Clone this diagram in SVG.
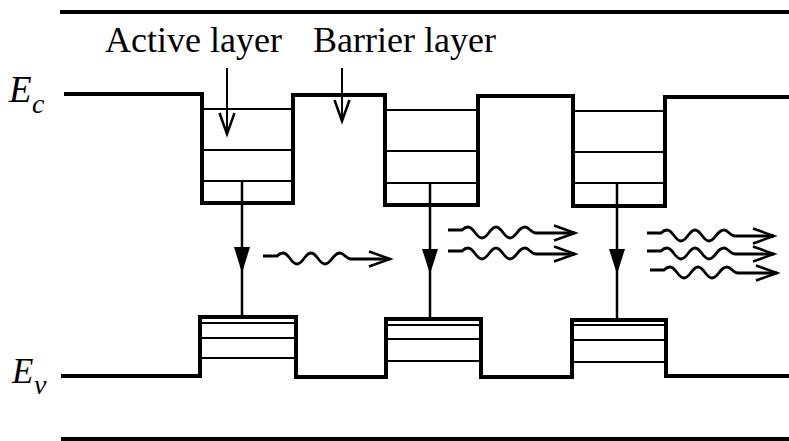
<svg xmlns="http://www.w3.org/2000/svg" width="789" height="441" viewBox="0 0 789 441">
<style>
.band{fill:none;stroke:#000;stroke-width:4;stroke-linejoin:miter;stroke-linecap:butt}
.frame{stroke:#000;stroke-width:4}
.lvl{stroke:#000;stroke-width:2}
.lbl{font-family:"Liberation Serif","Times New Roman",serif;font-size:36px;fill:#000}
.sym{font-family:"Liberation Serif","Times New Roman",serif;font-style:italic;fill:#000}
.ptr{stroke:#000;stroke-width:2;fill:none}
.wave{stroke:#000;stroke-width:2.8;fill:none}
.trans{stroke:#000;stroke-width:2.5}
.head{fill:#000}
</style>
<defs>
<marker id="vhead" markerUnits="userSpaceOnUse" markerWidth="30" markerHeight="22" viewBox="-25 -11 28 22" refX="0" refY="0" orient="auto">
<path d="M-21,-7.5 L0,0 L-21,7.5" fill="none" stroke="#000" stroke-width="2.5"/>
</marker>
<path id="wv" class="wave" d="M0,-3 H14 C16,-5 18,-6 20,-6 C26,-6 28,5 34,5 C40,5 42,-6 48,-6 C54,-6 56,5 62,5 C68,5 70,-6 77,-6 C81,-6 83,0 88,0 H127" marker-end="url(#vhead)"/>
</defs>

<g id="frame">
<line class="frame" x1="60" y1="12" x2="789" y2="12"/>
<line class="frame" x1="61" y1="439" x2="789" y2="439"/>
</g>

<g id="labels">
<text class="lbl" x="105" y="52">Active layer</text>
<text class="lbl" x="313" y="52">Barrier layer</text>
</g>

<g id="Ec-label">
<text class="sym" x="9" y="102" font-size="37">E</text>
<text class="sym" x="32" y="113" font-size="28">c</text>
</g>
<g id="Ev-label">
<text class="sym" x="12" y="383" font-size="35">E</text>
<text class="sym" x="34" y="394" font-size="28">v</text>
</g>

<g id="conduction-band">
<path class="band" d="M64,94 H202 V203 H293 V95 H385 V205 H478 V96 H573 V206 H665 V97 H789"/>
</g>
<g id="cb-well-1">
<line class="lvl" x1="202" y1="109" x2="293" y2="109"/>
<line class="lvl" x1="202" y1="150" x2="293" y2="150"/>
<line class="lvl" x1="202" y1="181" x2="293" y2="181"/>
</g>
<g id="cb-well-2">
<line class="lvl" x1="385" y1="110" x2="478" y2="110"/>
<line class="lvl" x1="385" y1="151" x2="478" y2="151"/>
<line class="lvl" x1="385" y1="183" x2="478" y2="183"/>
</g>
<g id="cb-well-3">
<line class="lvl" x1="573" y1="111" x2="665" y2="111"/>
<line class="lvl" x1="573" y1="152" x2="665" y2="152"/>
<line class="lvl" x1="573" y1="183" x2="665" y2="183"/>
</g>

<g id="valence-band">
<path class="band" d="M61,376 H200 V317 H296 V377 H386 V319 H481 V377 H572 V320 H666 V376 H789"/>
</g>
<g id="vb-well-1">
<line class="lvl" x1="200" y1="323" x2="296" y2="323"/>
<line class="lvl" x1="200" y1="338" x2="296" y2="338"/>
<line class="lvl" x1="200" y1="358" x2="296" y2="358"/>
</g>
<g id="vb-well-2">
<line class="lvl" x1="386" y1="325" x2="481" y2="325"/>
<line class="lvl" x1="386" y1="339" x2="481" y2="339"/>
<line class="lvl" x1="386" y1="361" x2="481" y2="361"/>
</g>
<g id="vb-well-3">
<line class="lvl" x1="572" y1="325" x2="666" y2="325"/>
<line class="lvl" x1="572" y1="340" x2="666" y2="340"/>
<line class="lvl" x1="572" y1="362" x2="666" y2="362"/>
</g>

<g id="connectors">
<line class="ptr" x1="227" y1="68" x2="227" y2="134" marker-end="url(#vhead)"/>
<line class="ptr" x1="342" y1="68" x2="342" y2="121" marker-end="url(#vhead)"/>

<line class="trans" x1="242" y1="181" x2="242" y2="317"/>
<polygon class="head" points="234,247 250,247 242,273"/>
<line class="trans" x1="430" y1="183" x2="430" y2="319"/>
<polygon class="head" points="422,249 438,249 430,274"/>
<line class="trans" x1="617" y1="183" x2="617" y2="320"/>
<polygon class="head" points="609,249 625,249 617,274"/>

<use href="#wv" x="263" y="259"/>
<use href="#wv" x="448" y="233"/>
<use href="#wv" x="448" y="254"/>
<use href="#wv" x="647" y="236"/>
<use href="#wv" x="647" y="254"/>
<use href="#wv" x="650" y="273"/>
</g>
</svg>
